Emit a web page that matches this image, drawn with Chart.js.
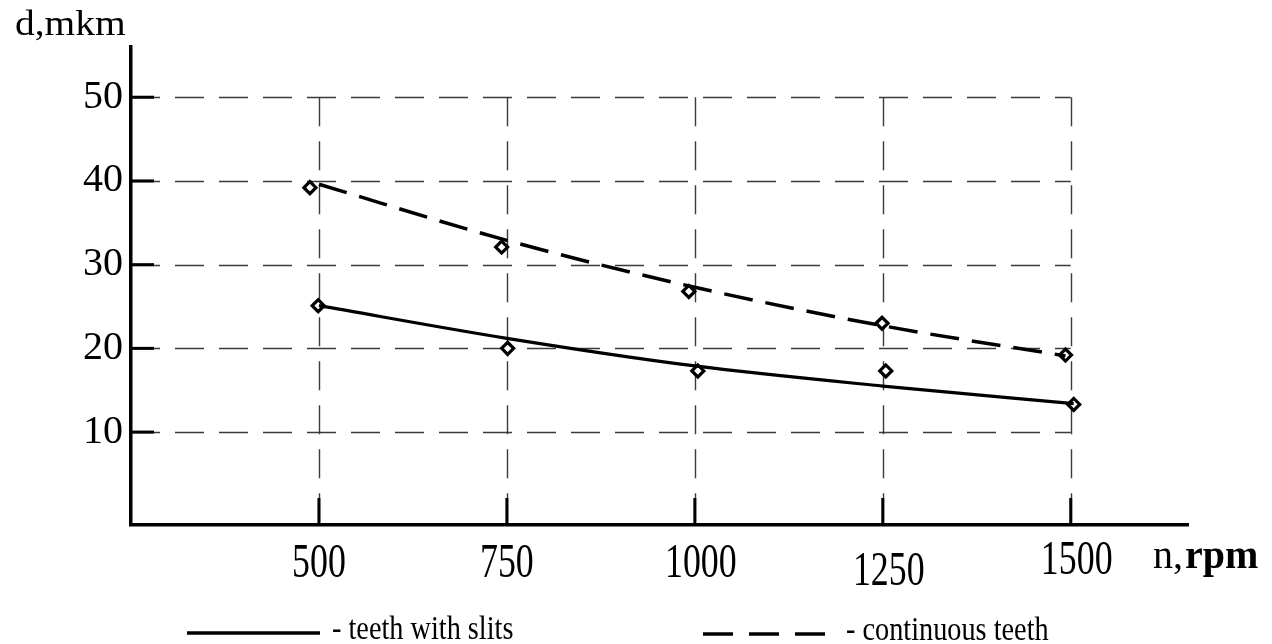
<!DOCTYPE html>
<html>
<head>
<meta charset="utf-8">
<script src="https://cdn.jsdelivr.net/npm/chart.js@4.4.1/dist/chart.umd.min.js"></script>
<style>
  body { margin: 0; background: #fff; }
  #wrap { width: 1272px; height: 644px; position: relative; }
</style>
</head>
<body>
<div id="wrap"><canvas id="wearChart"></canvas></div>
<script>
// n, rpm
const speeds = [500, 750, 1000, 1250, 1500];
const xTickLabels = ['500', '750', '1000', '1250', '1500'];
const yTickValues = [10, 20, 30, 40, 50];

// measured points (x as plotted)
const slitsX = [499, 751, 1004, 1254, 1504];
const slitsY = [25.1, 20.0, 17.3, 17.3, 13.3];
const contX = [488, 743, 992, 1249, 1493];
const contY = [39.2, 32.1, 26.8, 23.0, 19.2];

// fitted curves
const slitsFitX = [500, 750, 1000, 1250, 1504];
const slitsFit = [25.1, 21.2, 17.9, 15.5, 13.4];
const contFitX = [500, 750, 1000, 1250, 1493];
const contFit = [39.6, 32.9, 27.3, 22.7, 19.1];

const serif = "'Liberation Serif', 'Times New Roman', serif";

function pts(xs, ys) {
  return xs.map((x, i) => ({ x: x, y: ys[i] }));
}

// dashed grid confined to 500..1500 and up to 50, with heavy ticks at the axes
const gridPlugin = {
  id: 'dashGrid',
  beforeDatasetsDraw(chart) {
    const ctx = chart.ctx, xs = chart.scales.x, ys = chart.scales.y;
    const area = chart.chartArea;
    const xEnd = xs.getPixelForValue(speeds[speeds.length - 1]);
    const yTop = ys.getPixelForValue(yTickValues[yTickValues.length - 1]);
    ctx.save();
    ctx.strokeStyle = '#3a3a3a';
    ctx.lineWidth = 1.4;
    ctx.setLineDash([29, 15]);
    yTickValues.forEach(v => {
      const py = Math.round(ys.getPixelForValue(v)) + 0.5;
      ctx.beginPath();
      ctx.moveTo(area.left, py);
      ctx.lineTo(xEnd, py);
      ctx.stroke();
    });
    speeds.forEach(v => {
      const px = Math.round(xs.getPixelForValue(v)) + 0.5;
      ctx.beginPath();
      ctx.moveTo(px, yTop);
      ctx.lineTo(px, area.bottom);
      ctx.stroke();
    });
    ctx.setLineDash([]);
    ctx.strokeStyle = '#000';
    ctx.lineWidth = 3;
    yTickValues.forEach(v => {
      const py = ys.getPixelForValue(v);
      ctx.beginPath();
      ctx.moveTo(area.left, py);
      ctx.lineTo(area.left + 23, py);
      ctx.stroke();
    });
    speeds.forEach(v => {
      const px = xs.getPixelForValue(v);
      ctx.beginPath();
      ctx.moveTo(px, area.bottom);
      ctx.lineTo(px, area.bottom - 27);
      ctx.stroke();
    });
    ctx.restore();
  }
};

// axis captions, x tick labels and the legend row
const textPlugin = {
  id: 'captions',
  afterDraw(chart) {
    const ctx = chart.ctx, xs = chart.scales.x;
    ctx.save();
    ctx.fillStyle = '#000';
    ctx.textBaseline = 'alphabetic';

    // y caption
    ctx.save();
    ctx.translate(15, 35);
    ctx.scale(1.16, 1.05);
    ctx.font = '34px ' + serif;
    ctx.textAlign = 'left';
    ctx.fillText('d,mkm', 0, 0);
    ctx.restore();

    // x tick labels (1250 sits a little lower in the original)
    ctx.font = '37px ' + serif;
    ctx.textAlign = 'center';
    speeds.forEach((v, i) => {
      const px = xs.getPixelForValue(v) + (v >= 1000 ? 6 : 0);
      let base = 577;
      if (v === 1250) base = 585;
      if (v === 1500) base = 574;
      ctx.save();
      ctx.translate(px, base);
      ctx.scale(0.97, 1.3);
      ctx.fillText(xTickLabels[i], 0, 0);
      ctx.restore();
    });

    // x caption
    ctx.textAlign = 'left';
    ctx.font = '40px ' + serif;
    ctx.fillText('n,', 1153, 568);
    const w = ctx.measureText('n,').width;
    ctx.font = 'bold 40px ' + serif;
    ctx.fillText('rpm', 1153 + w + 2, 568);

    // legend
    ctx.strokeStyle = '#000';
    ctx.lineWidth = 3.5;
    ctx.beginPath();
    ctx.moveTo(187, 633);
    ctx.lineTo(320, 633);
    ctx.stroke();
    ctx.setLineDash([30, 16]);
    ctx.beginPath();
    ctx.moveTo(703, 634);
    ctx.lineTo(825, 634);
    ctx.stroke();
    ctx.setLineDash([]);

    ctx.font = '28px ' + serif;
    [['- teeth with slits', 332, 639], ['- continuous teeth', 846, 640]].forEach(t => {
      ctx.save();
      ctx.translate(t[1], t[2]);
      ctx.scale(1.01, 1.22);
      ctx.fillText(t[0], 0, 0);
      ctx.restore();
    });
    ctx.restore();
  }
};

const ctx = document.getElementById('wearChart').getContext('2d');
const wearChart = new Chart(ctx, {
  type: 'line',
  data: {
    datasets: [
      {
        label: 'teeth with slits',
        data: pts(slitsFitX, slitsFit),
        borderColor: '#000',
        borderWidth: 3.2,
        pointRadius: 0,
        cubicInterpolationMode: 'monotone',
        fill: false
      },
      {
        label: 'continuous teeth',
        data: pts(contFitX, contFit),
        borderColor: '#000',
        borderWidth: 3.5,
        borderDash: [29, 13],
        pointRadius: 0,
        cubicInterpolationMode: 'monotone',
        fill: false
      },
      {
        type: 'scatter',
        label: 'teeth with slits (measured)',
        data: pts(slitsX, slitsY),
        pointStyle: 'rectRot',
        pointRadius: 6,
        borderColor: '#000',
        borderWidth: 3.2,
        backgroundColor: '#fff',
        showLine: false
      },
      {
        type: 'scatter',
        label: 'continuous teeth (measured)',
        data: pts(contX, contY),
        pointStyle: 'rectRot',
        pointRadius: 6,
        borderColor: '#000',
        borderWidth: 3.2,
        backgroundColor: '#fff',
        showLine: false
      }
    ]
  },
  options: {
    responsive: true,
    maintainAspectRatio: false,
    animation: false,
    layout: { padding: { top: 47, right: 84, left: 0, bottom: 0 } },
    plugins: {
      legend: { display: false },
      tooltip: { enabled: false }
    },
    scales: {
      x: {
        type: 'linear',
        min: 250,
        max: 1656,
        grid: { display: false, drawTicks: false },
        border: { display: true, color: '#000', width: 3.5 },
        ticks: { display: false },
        afterBuildTicks: function(scale) {
          scale.ticks = speeds.map(v => ({ value: v }));
        },
        afterFit: function(scale) {
          scale.height = 119;
        }
      },
      y: {
        min: -1.1,
        max: 56,
        grid: { display: false, drawTicks: false },
        border: { display: true, color: '#000', width: 3.5 },
        ticks: {
          color: '#000',
          padding: 8,
          font: { family: serif, size: 40 }
        },
        afterBuildTicks: function(scale) {
          scale.ticks = yTickValues.map(v => ({ value: v }));
        },
        afterFit: function(scale) {
          scale.width = 131;
        }
      }
    }
  },
  plugins: [gridPlugin, textPlugin]
});
</script>
</body>
</html>
